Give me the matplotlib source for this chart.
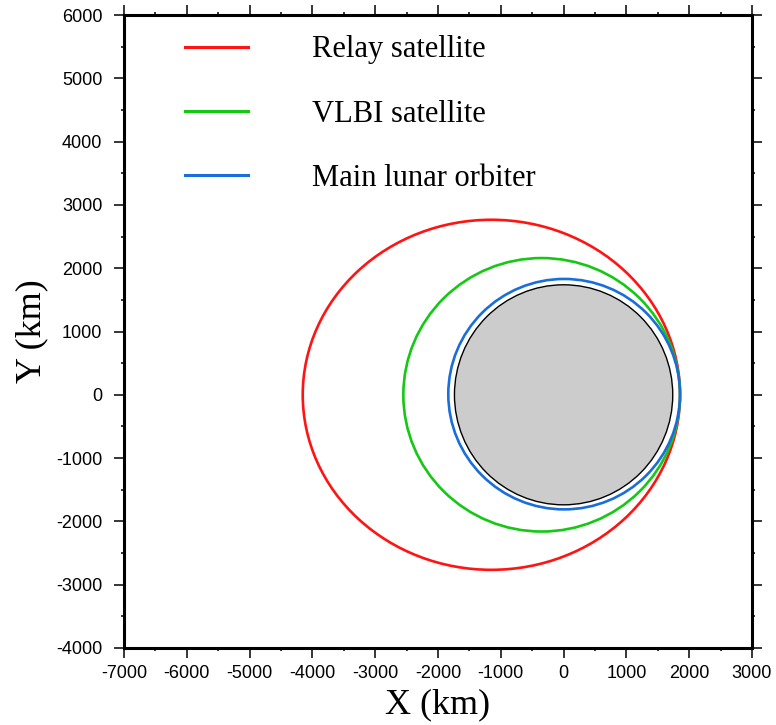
import matplotlib
matplotlib.use("Agg")
import matplotlib.pyplot as plt
from matplotlib.patches import Ellipse, Circle
from matplotlib.lines import Line2D
from matplotlib.ticker import MultipleLocator

# ---- data (km) ----
orbit_names = ["Relay satellite", "VLBI satellite", "Main lunar orbiter"]
orbit_center_x = [-1150, -349, 9]
orbit_center_y = [0, 0, 10]
orbit_width = [6008, 4406, 3690]
orbit_height = [5530, 4320, 3640]
orbit_colors = ["#ff1414", "#14c814", "#1a6edc"]

moon_radius = 1738
moon_center = (0, 0)

x_limits = (-7000, 3000)
y_limits = (-4000, 6000)

plt.rcParams["axes.unicode_minus"] = False

fig = plt.figure(figsize=(7.76, 7.25), dpi=100)
ax = fig.add_axes([124/776, 1-648/725, 628/776, 633/725])

ax.add_patch(Circle(moon_center, moon_radius, facecolor="#cccccc",
                    edgecolor="black", lw=1.0, zorder=2))

handles = []
for name, cx, cy, w, h, c in zip(orbit_names, orbit_center_x, orbit_center_y,
                                  orbit_width, orbit_height, orbit_colors):
    ax.add_patch(Ellipse((cx, cy), w, h, fill=False, edgecolor=c, lw=1.9, zorder=3))
    handles.append(Line2D([], [], color=c, lw=2.2))

ax.set_xlim(*x_limits)
ax.set_ylim(*y_limits)

ax.xaxis.set_major_locator(MultipleLocator(1000))
ax.xaxis.set_minor_locator(MultipleLocator(500))
ax.yaxis.set_major_locator(MultipleLocator(1000))
ax.yaxis.set_minor_locator(MultipleLocator(500))

ax.tick_params(which="both", direction="out", top=True, right=True,
               labeltop=False, labelright=False)
ax.tick_params(which="major", length=7.5, width=1.1, labelsize=13)
ax.tick_params(axis="y", which="major", pad=8)
ax.tick_params(axis="x", which="major", pad=5)
ax.tick_params(which="minor", length=2.5, width=1.1)
for lab in ax.get_xticklabels() + ax.get_yticklabels():
    lab.set_fontfamily("Liberation Sans")

for s in ax.spines.values():
    s.set_linewidth(2.2)

ax.set_xlabel("X (km)", fontfamily="Liberation Serif", fontsize=26, labelpad=4)
ax.set_ylabel("Y (km)", fontfamily="Liberation Serif", fontsize=26, labelpad=6)

leg = ax.legend(handles, orbit_names, loc="upper left",
                bbox_to_anchor=(0.097, 0.968), frameon=False,
                prop={"family": "Liberation Serif", "size": 22},
                handlelength=2.06, handletextpad=2.09, labelspacing=1.16,
                borderpad=0, borderaxespad=0)

fig.savefig("out.png", dpi=100)
